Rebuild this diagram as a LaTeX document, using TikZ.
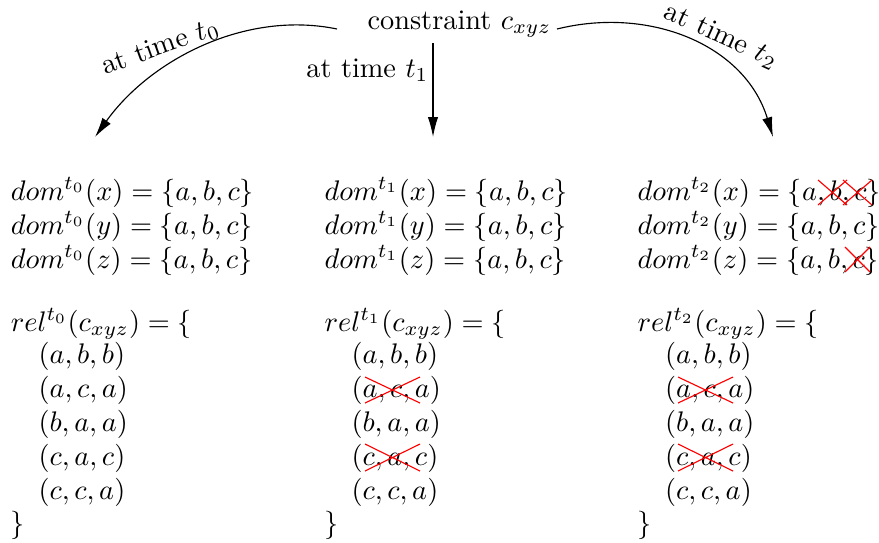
\documentclass[tikz,border=0pt]{standalone}
\usetikzlibrary{arrows.meta}
\begin{document}
\begin{tikzpicture}[x=0.353pt,y=-0.353pt,
  txt/.style={inner sep=0pt, anchor=base west},
  lbl/.style={inner sep=0pt},
  arr/.style={-{Latex[length=7pt,width=3.6pt]}, line width=0.4pt},
  xcross/.style={red, line width=0.4pt}]
\useasboundingbox (0,0) rectangle (879,542);

% header
\node[txt] (con) at (367,29) {constraint $c_{xyz}$};
\coordinate (ls) at (337,29);
\coordinate (ms) at (433,43);
\coordinate (rs) at (557,29);
\coordinate (e0) at (95,137);
\coordinate (e1) at (433,137);
\coordinate (e2) at (773,137);

\draw[arr] (ls) .. controls (245,10) and (150,60) .. (e0);
\draw[arr] (ms) -- (e1);
\draw[arr] (rs) .. controls (650,6) and (745,45) .. (e2);

\node[lbl, anchor=base west, rotate=19.7] (l0) at (105,75) {at time $t_0$};
\node[lbl, anchor=base east] (l1) at (429,77) {at time $t_1$};
\node[lbl, anchor=base west, rotate=-24.5] (l2) at (662,17) {at time $t_2$};

% column 0
\node[txt] (d0x) at (10.3,200) {$dom^{t_0}(x) = \{a,b,c\}$};
\node[txt] (d0y) at (10.3,234) {$dom^{t_0}(y) = \{a,b,c\}$};
\node[txt] (d0z) at (10.3,268) {$dom^{t_0}(z) = \{a,b,c\}$};
\node[txt] (r0) at (10.3,331) {$rel^{t_0}(c_{xyz}) = \{$};
\node[txt] (r0a) at (38,363) {$(a,b,b)$};
\node[txt] (r0b) at (38,397) {$(a,c,a)$};
\node[txt] (r0c) at (38,431) {$(b,a,a)$};
\node[txt] (r0d) at (38,465) {$(c,a,c)$};
\node[txt] (r0e) at (38,499) {$(c,c,a)$};
\node[txt] (r0z) at (10.3,532) {$\}$};

% column 1
\node[txt] (d1x) at (324,200) {$dom^{t_1}(x) = \{a,b,c\}$};
\node[txt] (d1y) at (324,234) {$dom^{t_1}(y) = \{a,b,c\}$};
\node[txt] (d1z) at (324,268) {$dom^{t_1}(z) = \{a,b,c\}$};
\node[txt] (r1) at (324,331) {$rel^{t_1}(c_{xyz}) = \{$};
\node[txt] (r1a) at (351,363) {$(a,b,b)$};
\node[txt] (r1b) at (351,397) {$(a,c,a)$};
\node[txt] (r1c) at (351,431) {$(b,a,a)$};
\node[txt] (r1d) at (351,465) {$(c,a,c)$};
\node[txt] (r1e) at (351,499) {$(c,c,a)$};
\node[txt] (r1z) at (324,532) {$\}$};

% column 2
\node[txt] (d2x) at (637,200) {$dom^{t_2}(x) = \{a,b,c\}$};
\node[txt] (d2y) at (637,234) {$dom^{t_2}(y) = \{a,b,c\}$};
\node[txt] (d2z) at (637,268) {$dom^{t_2}(z) = \{a,b,c\}$};
\node[txt] (r2) at (637,331) {$rel^{t_2}(c_{xyz}) = \{$};
\node[txt] (r2a) at (664.5,363) {$(a,b,b)$};
\node[txt] (r2b) at (664.5,397) {$(a,c,a)$};
\node[txt] (r2c) at (664.5,431) {$(b,a,a)$};
\node[txt] (r2d) at (664.5,465) {$(c,a,c)$};
\node[txt] (r2e) at (664.5,499) {$(c,c,a)$};
\node[txt] (r2z) at (637,532) {$\}$};

% red crosses
\draw[xcross] (818,180) -- (847,205) (818,205) -- (847,180);
\draw[xcross] (843,180) -- (872,205) (843,205) -- (872,180);
\draw[xcross] (845,247) -- (870,272) (845,272) -- (870,247);
\draw[xcross] (365,377) -- (420,403) (365,403) -- (420,377);
\draw[xcross] (365,444) -- (420,471) (365,471) -- (420,444);
\draw[xcross] (678,377) -- (733,403) (678,403) -- (733,377);
\draw[xcross] (678,444) -- (733,471) (678,471) -- (733,444);
\end{tikzpicture}
\end{document}
